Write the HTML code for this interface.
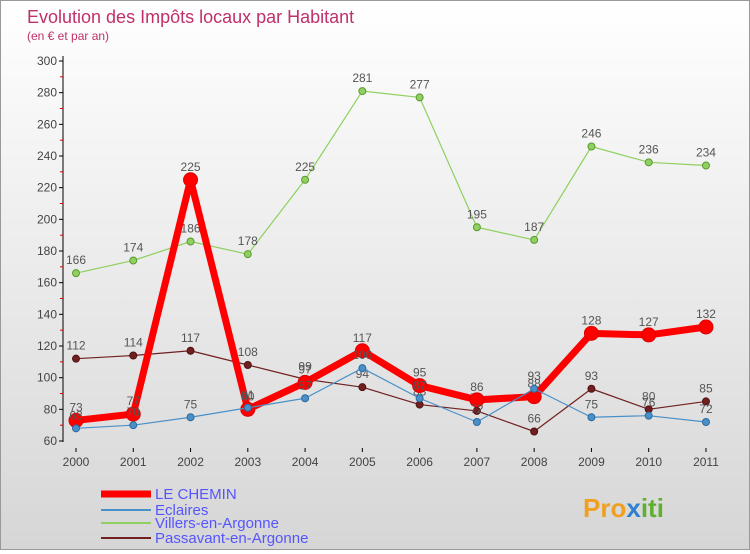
<!DOCTYPE html>
<html><head><meta charset="utf-8"><style>
body{margin:0;width:750px;height:550px;overflow:hidden;font-family:"Liberation Sans",sans-serif}
#wrap{position:relative;width:748px;height:548px;border:1px solid #999;background:linear-gradient(#fff,#d6d6d6)}
</style></head><body>
<div id="wrap">
<svg id="svg" width="748" height="548" xmlns="http://www.w3.org/2000/svg">
<text x="26" y="22" font-size="18" fill="#c0306a">Evolution des Impôts locaux par Habitant</text>
<text x="26" y="39" font-size="12" fill="#c0306a">(en € et par an)</text>
<g id="axes"></g><g id="series"></g>
<g font-size="15" fill="#5555ff">
<line x1="100" y1="493" x2="150" y2="493" stroke="#f00" stroke-width="7"/>
<text x="154" y="498">LE CHEMIN</text>
<line x1="100" y1="509" x2="150" y2="509" stroke="#4a90c8" stroke-width="2"/>
<text x="154" y="514">Eclaires</text>
<line x1="100" y1="522" x2="150" y2="522" stroke="#8fd060" stroke-width="2"/>
<text x="154" y="527">Villers-en-Argonne</text>
<line x1="100" y1="537" x2="150" y2="537" stroke="#702020" stroke-width="2"/>
<text x="154" y="542">Passavant-en-Argonne</text>
</g>
<text x="582" y="516" font-size="26" font-weight="bold" fill="#f0a020">Pro<tspan fill="#3080d0">x</tspan><tspan fill="#60b030">iti</tspan></text>
</svg></div>
<script>
const years=[2000,2001,2002,2003,2004,2005,2006,2007,2008,2009,2010,2011];
const yTicks=[60,80,100,120,140,160,180,200,220,240,260,280,300];
const chemin=[73,77,225,80,97,117,95,86,88,128,127,132];
const eclaires=[68,70,75,81,87,106,87,72,93,75,76,72];
const villers=[166,174,186,178,225,281,277,195,187,246,236,234];
const passavant=[112,114,117,108,99,94,83,79,66,93,80,85];
const NS="http://www.w3.org/2000/svg";
const X=i=>75+i*57.27, Y=v=>440-(v-60)*380/240;
function mk(t,a,p){const e=document.createElementNS(NS,t);for(const k in a)e.setAttribute(k,a[k]);p.appendChild(e);return e;}
const ax=document.getElementById('axes'), se=document.getElementById('series');
const yl=mk('line',{x1:62,y1:55,x2:62,y2:441,stroke:'#000'},ax);


yTicks.forEach(v=>{
 mk('line',{x1:58,y1:Y(v),x2:62,y2:Y(v),stroke:'#000'},ax);
 if(v<300) mk('line',{x1:59,y1:Y(v+10),x2:62,y2:Y(v+10),stroke:'#d00'},ax);
 const t=mk('text',{x:56,y:Y(v)+4,'text-anchor':'end','font-size':12,fill:'#444'},ax);t.textContent=v;
 
 
});
years.forEach((y,i)=>{
 mk('line',{x1:X(i),y1:447,x2:X(i),y2:451,stroke:'#000'},ax);
 const t=mk('text',{x:X(i),y:465,'text-anchor':'middle','font-size':12,fill:'#444'},ax);t.textContent=y;
 
 
});
function series(d,col,w,r,name,dark){
 const g=mk('g',{},se);
 
 
 mk('polyline',{points:d.map((v,i)=>X(i)+','+Y(v)).join(' '),fill:'none',stroke:col,'stroke-width':w,'stroke-linejoin':'round'},g);
 d.forEach((v,i)=>{
  const c=mk('circle',{cx:X(i),cy:Y(v),r:r,fill:col,stroke:dark,'stroke-width':1},g);
  
  
  const t=mk('text',{x:X(i),y:Y(v)-9,'text-anchor':'middle','font-size':12,fill:'#555'},g);t.textContent=v;
  
  
 });
}
series(villers,'#8fd060',1.2,3.5,'series-villers','#5a9a30');
series(passavant,'#702020',1.2,3.5,'series-passavant','#501010');
series(chemin,'#f00',7,7,'series-le-chemin','#d00');
series(eclaires,'#4a90c8',1.2,3.5,'series-eclaires','#2a6aa0');
</script>
</body></html>
